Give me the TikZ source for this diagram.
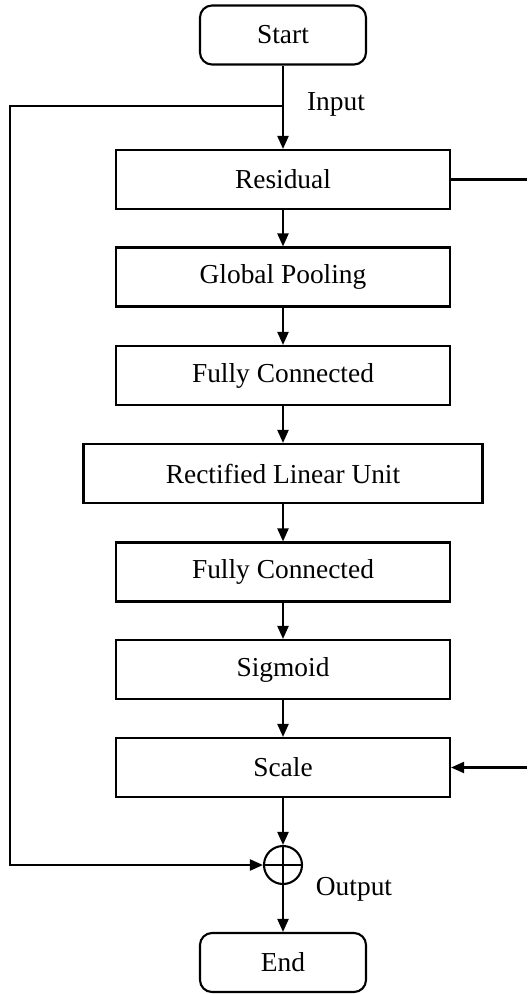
\documentclass[tikz,border=0pt]{standalone}
\usepackage{fontspec}
\setmainfont{Liberation Serif}
\usetikzlibrary{arrows.meta}
\begin{document}
\begin{tikzpicture}[x=0.5pt,y=-0.5pt,
  line width=1.05pt,
  txt/.style={font=\fontsize{13.7}{16}\selectfont},
  box/.style={txt, draw, line width=1.05pt, minimum height=29.5pt, minimum width=167pt, inner sep=0pt},
  term/.style={box, rounded corners=6pt, minimum width=83pt},
  flow/.style={line width=1.05pt, -{Triangle[length=6.5pt,width=5.5pt]}},
  sumnode/.style={draw, circle, line width=1.05pt, minimum size=19pt, inner sep=0pt,
    path picture={
      \draw[line width=1.05pt] (path picture bounding box.north) -- (path picture bounding box.south);
      \draw[line width=1.05pt] (path picture bounding box.west) -- (path picture bounding box.east);
    }}]
\useasboundingbox (0,0) rectangle (527,994);

% main chain of blocks
\node[term] (start) at (283,35) {Start};
\node[box] (res) at (283,179.5) {Residual};
\node[box] (pool) at (283,277) {Global Pooling};
\node[box] (fc1) at (283,375.5) {Fully Connected};
\node[box, minimum width=199.5pt] (relu) at (283,473.5) {Rectified Linear Unit};
\node[box] (fc2) at (283,572) {Fully Connected};
\node[box] (sig) at (283,669.5) {Sigmoid};
\node[box] (scale) at (283,767.5) {Scale};
\node[sumnode] (sum) at (283,865) {};
\node[term] (end) at (283,962.5) {End};

% labels
\node[txt] (inlbl) at (336,104) {Input};
\node[txt] (outlbl) at (354,889) {Output};

% vertical flow
\draw[flow] (start) -- (res);
\draw[flow] (res) -- (pool);
\draw[flow] (pool) -- (fc1);
\draw[flow] (fc1) -- (relu);
\draw[flow] (relu) -- (fc2);
\draw[flow] (fc2) -- (sig);
\draw[flow] (sig) -- (scale);
\draw[flow] (scale) -- (sum);
\draw[flow] (sum) -- (end);

% identity shortcut on the left
\coordinate (split) at (283,106);
\coordinate (lcorner) at (10,106);
\draw[flow] (split) -- (lcorner) |- (sum.west);

% excitation path on the right
\coordinate (rtop) at (527,179.5);
\coordinate (rbot) at (527,767.5);
\draw (res.east) -- (rtop);
\draw[flow] (rbot) -- (scale.east);
\end{tikzpicture}
\end{document}
